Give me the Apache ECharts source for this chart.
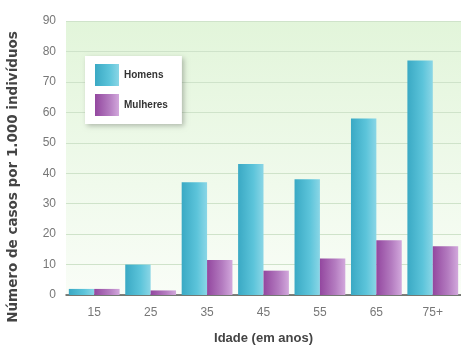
<!DOCTYPE html>
<html lang="pt">
<head>
    <meta charset="utf-8" />
    <title>Casos por idade</title>
    <script src="https://cdn.jsdelivr.net/npm/echarts@6/dist/echarts.min.js"></script>
    <style>
        html, body { margin: 0; padding: 0; background: #ffffff; }
        #chart { width: 461px; height: 347px; }
    </style>
</head>
<body>
<div id="chart"></div>
<script>
    // dados
    var idades = ['15', '25', '35', '45', '55', '65', '75+'];
    var homens = [2, 10, 37, 43, 38, 58, 77];
    var mulheres = [2, 1.5, 11.5, 8, 12, 18, 16];
    var ticksY = [0, 10, 20, 30, 40, 50, 60, 70, 80, 90];

    var myChart = echarts.init(document.getElementById('chart'));
    var G = echarts.graphic.LinearGradient;

    var option = {
        animation: false,
        textStyle: { fontFamily: 'Liberation Sans, Arial, sans-serif' },
        grid: {
            left: 66, right: 0, top: 21, bottom: 52,
            outerBoundsMode: 'none',
            show: true,
            borderWidth: 0,
            backgroundColor: new G(0, 0, 0, 1, [
                { offset: 0, color: '#e2f5da' },
                { offset: 0.6, color: '#f0faec' },
                { offset: 1, color: '#f9fdf7' }
            ])
        },
        legend: {
            data: ['Homens', 'Mulheres'],
            orient: 'vertical',
            icon: 'rect',
            left: 85, top: 56,
            padding: [8, 14, 8, 10],
            itemWidth: 24, itemHeight: 22,
            itemGap: 8,
            backgroundColor: '#ffffff',
            shadowColor: 'rgba(0,0,0,0.25)',
            shadowBlur: 5,
            shadowOffsetX: 2, shadowOffsetY: 2,
            textStyle: { fontSize: 10, fontWeight: 'bold', color: '#333' }
        },
        xAxis: {
            type: 'category',
            data: idades,
            name: 'Idade (em anos)',
            nameLocation: 'middle',
            nameGap: 37,
            nameTextStyle: { fontSize: 13, fontWeight: 'bold', color: '#444' },
            axisLine: { lineStyle: { color: '#555', width: 1.5 } },
            axisTick: { alignWithLabel: true, length: 5, lineStyle: { color: '#555' } },
            axisLabel: { fontSize: 12, color: '#777', margin: 12 }
        },
        yAxis: {
            type: 'value',
            min: ticksY[0], max: ticksY[ticksY.length - 1], interval: 10,
            name: 'Número de casos por 1.000 indivíduos',
            nameLocation: 'middle',
            nameGap: 46,
            nameTextStyle: {
                fontSize: 13.5, fontWeight: 'bold', color: '#444',
                fontFamily: 'DejaVu Sans', padding: [0, 38, 0, 0]
            },
            axisLine: { show: false },
            axisTick: { show: false },
            axisLabel: { fontSize: 12, color: '#777', margin: 10 },
            splitLine: { lineStyle: { color: '#cfe3ca', width: 1 } }
        },
        series: [{
            name: 'Homens',
            type: 'bar',
            data: homens,
            barGap: '0%',
            barCategoryGap: '10%',
            itemStyle: {
                color: new G(0, 0, 1, 0, [
                    { offset: 0, color: '#3aa9c4' },
                    { offset: 0.6, color: '#5cc4da' },
                    { offset: 1, color: '#8ad6e6' }
                ])
            }
        }, {
            name: 'Mulheres',
            type: 'bar',
            data: mulheres,
            itemStyle: {
                color: new G(0, 0, 1, 0, [
                    { offset: 0, color: '#93479f' },
                    { offset: 0.6, color: '#b47cc0' },
                    { offset: 1, color: '#d2a8dc' }
                ])
            }
        }]
    };

    myChart.setOption(option);
</script>
</body>
</html>
